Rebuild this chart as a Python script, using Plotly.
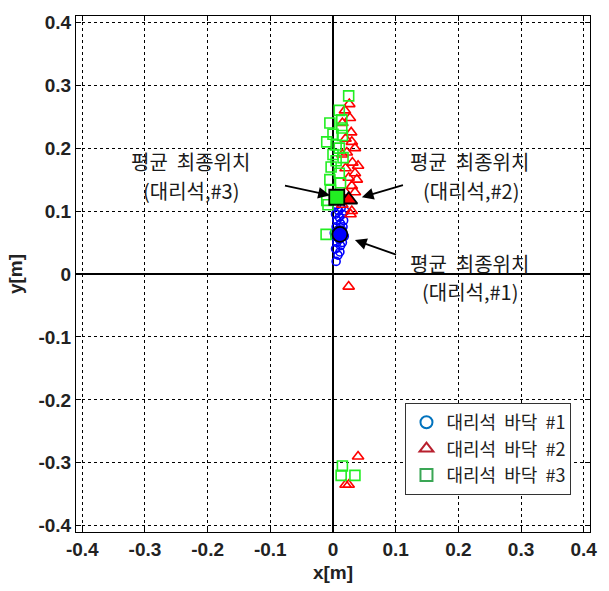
import plotly.graph_objects as go

# Series 1: 대리석 바닥 #1 (blue circles)
x1 = [0.005, 0.008, 0.004, 0.012, 0.006, 0.015, 0.003, 0.010, 0.018, 0.008, 0.014, 0.005, 0.012,
      0.017, 0.006, 0.010, 0.015, 0.004, 0.009, 0.013, 0.006, 0.016, 0.002, 0.011, 0.019]
y1 = [0.020, 0.030, 0.040, 0.045, 0.050, 0.050, 0.060, 0.055, 0.060, 0.070, 0.070, 0.075, 0.080,
      0.085, 0.085, 0.090, 0.095, 0.095, 0.100, 0.105, 0.110, 0.075, 0.065, 0.035, 0.100]
# Series 2: 대리석 바닥 #2 (red triangles)
x2 = [0.026, 0.019, 0.027, 0.015, 0.029, 0.020, 0.030, 0.035, 0.022, 0.015, 0.031, 0.040, 0.020,
      0.035, 0.025, 0.038, 0.030, 0.020, 0.035, 0.030, 0.028, 0.015, 0.025, 0.040, 0.020, 0.025]
y2 = [0.270, 0.260, 0.248, 0.240, 0.225, 0.215, 0.210, 0.200, 0.193, 0.190, 0.177, 0.172, 0.168,
      0.160, 0.153, 0.150, 0.140, 0.130, 0.130, 0.100, 0.095, 0.110, -0.020, -0.290, -0.335, -0.335]
# Series 3: 대리석 바닥 #3 (green squares)
x3 = [0.025, 0.010, 0.014, -0.005, 0.014, 0.000, 0.015, -0.010, 0.005, 0.010, 0.000, 0.016,
      0.005, -0.003, 0.010, -0.005, -0.004, -0.010, 0.012, -0.008, -0.011, 0.015, 0.013, 0.035]
y3 = [0.283, 0.260, 0.245, 0.240, 0.232, 0.222, 0.220, 0.210, 0.205, 0.200, 0.190, 0.185,
      0.180, 0.170, 0.160, 0.150, 0.133, 0.117, 0.145, 0.110, 0.063, -0.305, -0.320, -0.320]
# Mean final positions
mean_x = [0.011, 0.025, 0.006]
mean_y = [0.063, 0.118, 0.122]

names = ["대리석\u00a0\u00a0바닥\u00a0\u00a0#1", "대리석\u00a0\u00a0바닥\u00a0\u00a0#2", "대리석\u00a0\u00a0바닥\u00a0\u00a0#3"]
plot_colors = ["#0000ff", "#ff0000", "#22ee22"]
legend_colors = ["#0072bd", "#b8202e", "#3aa655"]
symbols = ["circle-open", "triangle-up-open", "square-open"]
filled = ["circle", "triangle-up", "square"]
sizes = [8, 10, 10]

ticks = [-0.4, -0.3, -0.2, -0.1, 0, 0.1, 0.2, 0.3, 0.4]
tick_text = ["-0.4", "-0.3", "-0.2", "-0.1", "0", "0.1", "0.2", "0.3", "0.4"]

fig = go.Figure()
for xs, ys, c, s, sz in zip([x1, x2, x3], [y1, y2, y3], plot_colors, symbols, sizes):
    fig.add_trace(go.Scatter(x=xs, y=ys, mode="markers", showlegend=False,
                             marker=dict(symbol=s, size=sz, color=c, line=dict(width=1.6, color=c))))
for i in range(3):
    fig.add_trace(go.Scatter(x=[mean_x[i]], y=[mean_y[i]], mode="markers", showlegend=False,
                             marker=dict(symbol=filled[i], size=15, color=plot_colors[i],
                                         line=dict(width=1.8, color="black"))))
for n, c, s in zip(names, legend_colors, symbols):
    fig.add_trace(go.Scatter(x=[None], y=[None], mode="markers", name=n,
                             marker=dict(symbol=s, size=11, color=c, line=dict(width=2, color=c))))

kfont = dict(family="Noto Sans CJK KR", size=20, color="#1a1a1a")
line1 = "평균\u00a0\u00a0최종위치"
labels = [(line1, -0.227, 0.179), ("(대리석,#3)", -0.227, 0.133),
          (line1, 0.218, 0.179), ("(대리석,#2)", 0.220, 0.133),
          (line1, 0.218, 0.0174), ("(대리석,#1)", 0.218, -0.0285)]
for t, x, y in labels:
    fig.add_annotation(x=x, y=y, xref="x", yref="y", text=t, showarrow=False, font=kfont, align="center")
arrows = [(-0.079, 0.141, -0.005, 0.125), (0.114, 0.142, 0.046, 0.122), (0.103, 0.030, 0.035, 0.054)]
for ax, ay, hx, hy in arrows:
    fig.add_annotation(x=hx, y=hy, ax=ax, ay=ay, xref="x", yref="y", axref="x", ayref="y",
                       text="", showarrow=True, arrowhead=2, arrowsize=1.3, arrowwidth=1.8,
                       arrowcolor="black")

axis_common = dict(range=[-0.41, 0.41], tickvals=ticks, ticktext=tick_text,
                   showgrid=True, gridcolor="black", griddash="3px,3px", gridwidth=0.8,
                   zeroline=True, zerolinecolor="black", zerolinewidth=2.2,
                   showline=True, linecolor="black", linewidth=1, mirror="ticks",
                   ticks="inside", ticklen=5, tickcolor="black",
                   tickfont=dict(family="Liberation Sans", size=19, color="#222", weight="bold"))
fig.update_xaxes(**axis_common, title=dict(text="x[m]", standoff=6,
                 font=dict(family="Liberation Sans", size=19, color="#222", weight="bold")))
fig.update_yaxes(**axis_common, title=dict(text="y[m]", standoff=10,
                 font=dict(family="Liberation Sans", size=19, color="#222", weight="bold")))

fig.update_layout(width=609, height=591, margin=dict(l=76, r=17, t=12, b=58),
                  plot_bgcolor="white", paper_bgcolor="white",
                  legend=dict(x=0.641, y=0.25, xanchor="left", yanchor="top",
                              bgcolor="white", bordercolor="#333", borderwidth=1,
                              font=dict(family="Noto Sans CJK KR", size=18, color="#222"),
                              tracegroupgap=0, itemsizing="constant"))
fig.write_html("out.html")
